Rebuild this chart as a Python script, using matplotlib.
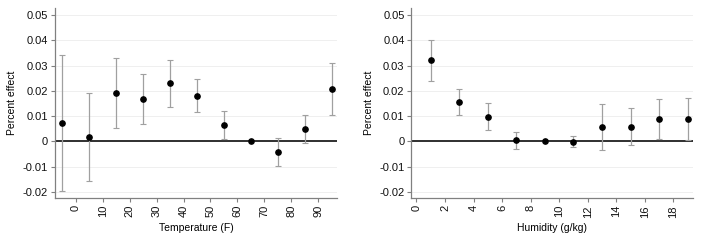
import matplotlib
matplotlib.use("Agg")
import matplotlib.pyplot as plt
import numpy as np

temp_x = [-5, 5, 15, 25, 35, 45, 55, 65, 75, 85, 95]
temp_y = [0.0073, 0.0018, 0.0190, 0.0167, 0.0230, 0.0180, 0.0066, 0.0, -0.0042, 0.0048, 0.0206]
temp_lo = [-0.0195, -0.0155, 0.0053, 0.0068, 0.0137, 0.0115, 0.0008, 0.0, -0.0097, -0.0006, 0.0103]
temp_hi = [0.0340, 0.0190, 0.0330, 0.0268, 0.0321, 0.0248, 0.0122, 0.0, 0.0012, 0.0104, 0.0310]

hum_x = [1, 3, 5, 7, 9, 11, 13, 15, 17, 19]
hum_y = [0.0321, 0.0156, 0.0098, 0.0006, 0.0, -0.0001, 0.0057, 0.0056, 0.0088, 0.0088]
hum_lo = [0.0241, 0.0103, 0.0045, -0.0028, 0.0, -0.0023, -0.0033, -0.0014, 0.0008, 0.0005]
hum_hi = [0.0403, 0.0207, 0.0152, 0.0039, 0.0, 0.0020, 0.0148, 0.0131, 0.0168, 0.0172]

y_ticks = [-0.02, -0.01, 0, 0.01, 0.02, 0.03, 0.04, 0.05]
y_ticklabels = ["-0.02", "-0.01", "0", "0.01", "0.02", "0.03", "0.04", "0.05"]
temp_ticks = [0, 10, 20, 30, 40, 50, 60, 70, 80, 90]
hum_ticks = [0, 2, 4, 6, 8, 10, 12, 14, 16, 18]

plt.rcParams['font.family'] = ['Liberation Sans', 'DejaVu Sans']

fig = plt.figure(figsize=(7.01, 2.41), dpi=100)
ax1 = fig.add_axes([0.078, 0.178, 0.403, 0.789])
ax2 = fig.add_axes([0.587, 0.178, 0.402, 0.789])

spine_col = '#808080'
err_col = '#a0a0a0'

def style(ax, x, y, lo, hi, xticks, xlim, xlabel):
    y = np.array(y); lo = np.array(lo); hi = np.array(hi)
    ax.axhline(0, color='#202020', lw=1.3, zorder=1)
    for t in y_ticks:
        ax.axhline(t, color='#ececec', lw=0.6, zorder=0)
    ax.errorbar(x, y, yerr=[y - lo, hi - y], fmt='none', ecolor=err_col,
                elinewidth=0.9, capsize=2.2, capthick=0.8, zorder=2)
    ax.plot(x, y, 'o', color='black', ms=3.8, zorder=3)
    ax.set_ylim(-0.0224, 0.0528)
    ax.set_xlim(*xlim)
    ax.set_yticks(y_ticks)
    ax.set_yticklabels(y_ticklabels, fontsize=8)
    ax.set_xticks(xticks)
    ax.set_xticklabels([str(t) for t in xticks], rotation=90, fontsize=8)
    ax.set_ylabel('Percent effect', fontsize=7.5)
    ax.set_xlabel(xlabel, fontsize=7.5)
    for s in ['top', 'right']:
        ax.spines[s].set_visible(False)
    for s in ['left', 'bottom']:
        ax.spines[s].set_color(spine_col)
        ax.spines[s].set_linewidth(0.9)
    ax.tick_params(axis='both', color=spine_col, length=3, width=0.8, pad=2, labelcolor='#111111')

style(ax1, temp_x, temp_y, temp_lo, temp_hi, temp_ticks, (-7.8, 97), 'Temperature (F)')
style(ax2, hum_x, hum_y, hum_lo, hum_hi, hum_ticks, (-0.35, 19.4), 'Humidity (g/kg)')

fig.savefig('out.png', dpi=100, facecolor='white')
